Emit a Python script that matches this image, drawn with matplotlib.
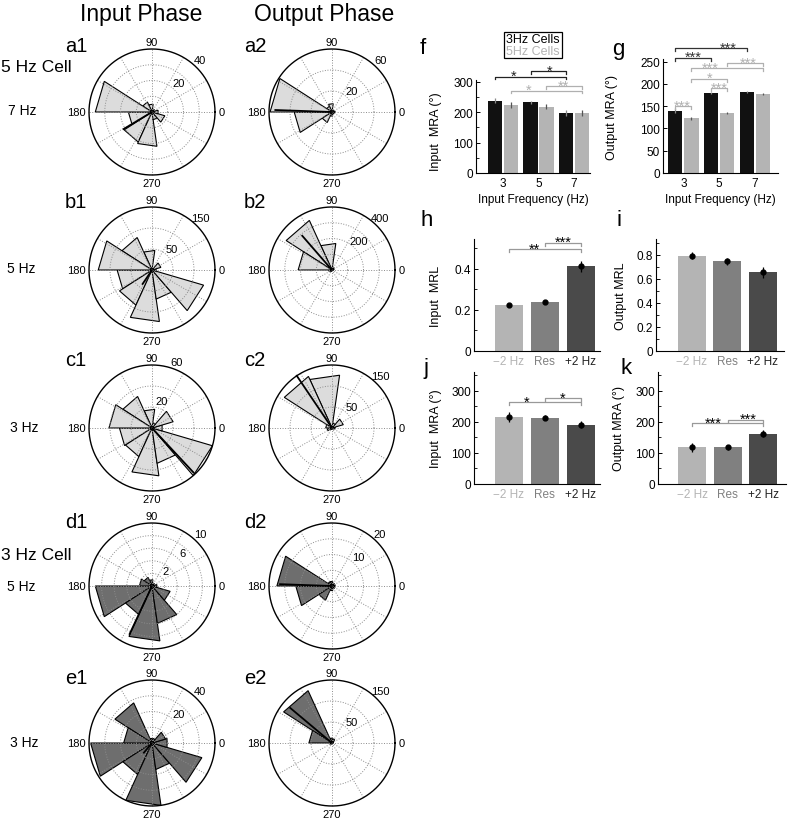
import numpy as np
import matplotlib.pyplot as plt
from matplotlib.patches import Rectangle
from matplotlib.ticker import MultipleLocator

plt.rcParams['font.family'] = ['Liberation Sans', 'DejaVu Sans']

W, H = 800, 820
fig = plt.figure(figsize=(8, 8.2), dpi=100)


def px_axes(left, top, w, h):
    return fig.add_axes([left / W, 1 - (top + h) / H, w / W, h / H])


# ---- rose histograms: 11 bins, first bin starts at 180 deg ----
n_bins = 11
bin_edges = 180 + np.arange(n_bins + 1) * 360 / n_bins

a1_counts = [15, 21, 22, 5, 8.5, 4, 2, 2, 5, 7, 36]
a2_counts = [36, 11, 4, 2, 2, 3, 2, 1, 8, 6, 59]
b1_counts = [83, 92, 124, 70, 128, 10, 22, 5, 47, 85, 128]
b2_counts = [20, 10, 5, 4, 5, 10, 15, 20, 170, 346, 215]
c1_counts = [31, 30, 46, 34, 60, 10, 21, 5, 18, 33, 41]
c2_counts = [12, 4, 3, 3, 4, 8, 28, 12, 127, 135, 15]
d1_counts = [9, 5, 8.8, 6, 3, 0.8, 0.5, 0.5, 1, 1.5, 2]
d2_counts = [11.5, 5, 1.5, 1, 1, 1, 1, 1, 1.5, 1.5, 17.5]
e1_counts = [39, 22, 40, 17, 33, 10, 9, 3, 3, 28, 18]
e2_counts = [5, 3, 2, 2, 2, 3, 4, 10, 12, 137, 55]

# mean direction (deg) and length drawn from the centre
a1_mean = (211, 21)
a2_mean = (178, 54)
b1_mean = (236, 40)
b2_mean = (131, 288)
c1_mean = (313, 58)
c2_mean = (124, 150)
d1_mean = (245, 8.4)
d2_mean = (178, 16.5)
e1_mean = (230, 8)
e2_mean = (140, 130)

LIGHT = '#dcdcdc'
DARK = '#6e6e6e'


def rose(cx, cy, counts, rmax, rings, ring_labels, mean, face, lab_ang=47):
    R = 63
    half = 92
    ax = px_axes(cx - half, cy - half, 2 * half, 2 * half)
    lim = rmax * half / R
    ax.set_xlim(-lim, lim)
    ax.set_ylim(-lim, lim)
    ax.axis('off')
    for c, t0, t1 in zip(counts, bin_edges[:-1], bin_edges[1:]):
        t0, t1 = np.radians(t0), np.radians(t1)
        ax.fill([0, c * np.cos(t0), c * np.cos(t1)], [0, c * np.sin(t0), c * np.sin(t1)],
                facecolor=face, edgecolor='black', lw=0.8, zorder=1)
    t = np.linspace(0, 2 * np.pi, 300)
    for r in rings[:-1]:
        ax.plot(r * np.cos(t), r * np.sin(t), ls=':', color='#8c8c8c', lw=0.7, zorder=2)
    for a in np.radians(np.arange(0, 360, 30)):
        ax.plot([0, rmax * np.cos(a)], [0, rmax * np.sin(a)], ls=':', color='#8c8c8c', lw=0.7, zorder=2)
    ax.plot(rmax * np.cos(t), rmax * np.sin(t), color='black', lw=1.0, zorder=3)
    md, ml = mean
    ax.plot([0, ml * np.cos(np.radians(md))], [0, ml * np.sin(np.radians(md))],
            color='black', lw=1.3, zorder=4)
    fs = 8
    ax.text(0, 1.11 * rmax, '90', ha='center', va='center', fontsize=fs)
    ax.text(0, -1.12 * rmax, '270', ha='center', va='center', fontsize=fs)
    ax.text(1.05 * rmax, 0, '0', ha='left', va='center', fontsize=fs)
    ax.text(-1.05 * rmax, 0, '180', ha='right', va='center', fontsize=fs)
    la = np.radians(lab_ang)
    for v in ring_labels:
        rr = v + 0.12 * rmax
        ax.text(rr * np.cos(la), rr * np.sin(la), str(v), ha='center', va='center', fontsize=fs)


col1, col2 = 152, 332
rows = [113, 271, 429, 587, 744]

rose(col1, rows[0], a1_counts, 40, [10, 20, 30, 40], [20, 40], a1_mean, LIGHT)
rose(col2, rows[0], a2_counts, 60, [20, 40, 60], [20, 60], a2_mean, LIGHT)
rose(col1, rows[1], b1_counts, 150, [50, 100, 150], [50, 150], b1_mean, LIGHT)
rose(col2, rows[1], b2_counts, 400, [100, 200, 300, 400], [200, 400], b2_mean, LIGHT)
rose(col1, rows[2], c1_counts, 60, [20, 40, 60], [20, 60], c1_mean, LIGHT, lab_ang=70)
rose(col2, rows[2], c2_counts, 150, [50, 100, 150], [50, 150], c2_mean, LIGHT)
rose(col1, rows[3], d1_counts, 10, [2, 4, 6, 8, 10], [2, 6, 10], d1_mean, DARK)
rose(col2, rows[3], d2_counts, 20, [5, 10, 15, 20], [10, 20], d2_mean, DARK)
rose(col1, rows[4], e1_counts, 40, [10, 20, 30, 40], [20, 40], e1_mean, DARK)
rose(col2, rows[4], e2_counts, 150, [50, 100, 150], [50, 150], e2_mean, DARK)


def ftext(x, y, s, **kw):
    fig.text(x / W, 1 - y / H, s, **kw)


ftext(141, 14, 'Input Phase', ha='center', va='center', fontsize=16.5)
ftext(324, 14, 'Output Phase', ha='center', va='center', fontsize=16.5)
for lab, x, y in [('a1', 65, 46), ('a2', 244, 46), ('b1', 65, 203), ('b2', 244, 203),
                  ('c1', 65, 361), ('c2', 244, 361), ('d1', 65, 522), ('d2', 244, 522),
                  ('e1', 65, 679), ('e2', 244, 679)]:
    ftext(x, y, lab, ha='left', va='center', fontsize=14.5)
ftext(1, 67, '5 Hz Cell', ha='left', va='center', fontsize=12.5)
ftext(1, 555, '3 Hz Cell', ha='left', va='center', fontsize=12.5)
for lab, x, y in [('7 Hz', 8, 111), ('5 Hz', 7, 269), ('3 Hz', 10, 428),
                  ('5 Hz', 7, 587), ('3 Hz', 10, 743)]:
    ftext(x, y, lab, ha='left', va='center', fontsize=10)

# ---- bar charts ----
freqs = np.array([3, 5, 7])
f_3hz = [238, 232, 198]
f_3hz_err = [8, 6, 9]
f_5hz = [223, 218, 196]
f_5hz_err = [9, 9, 10]
g_3hz = [140, 180, 182]
g_3hz_err = [5, 3, 1.5]
g_5hz = [123, 134, 177]
g_5hz_err = [3, 2, 2]

conds = ['\u22122 Hz', 'Res', '+2 Hz']
h_mrl = [0.222, 0.237, 0.412]
h_err = [0.008, 0.01, 0.028]
i_mrl = [0.79, 0.745, 0.655]
i_err = [0.03, 0.028, 0.045]
j_mra = [215, 213, 191]
j_err = [16, 8, 10]
k_mra = [118, 118, 162]
k_err = [15, 8, 10]

BLACK_BAR = '#111111'
GREY_BAR = '#b4b4b4'
cond_colors = ['#b4b4b4', '#808080', '#4a4a4a']
cond_text = ['#b4b4b4', '#808080', '#222222']
FS = 8.5


def style(ax, major, minor):
    for s in ['top', 'right']:
        ax.spines[s].set_visible(False)
    ax.spines['left'].set_linewidth(0.8)
    ax.spines['bottom'].set_linewidth(0.8)
    ax.yaxis.set_major_locator(MultipleLocator(major))
    ax.yaxis.set_minor_locator(MultipleLocator(minor))
    ax.tick_params(axis='y', direction='in', length=3, width=0.7, labelsize=FS, pad=2)
    ax.tick_params(axis='y', which='minor', direction='in', length=2, width=0.6)
    ax.tick_params(axis='x', length=0, labelsize=FS, pad=3)


def sig(ax, x1, x2, y, leg, txt, color, tx, star_color=None):
    ax.plot([x1, x1, x2, x2], [y - leg, y, y, y - leg], color=color, lw=0.9, clip_on=False)
    ax.annotate(txt, xy=(tx, y), xytext=(0, -2.5), textcoords='offset points',
                ha='center', va='baseline', fontsize=10.5,
                color=star_color if star_color else color, annotation_clip=False)


def grouped(ax, a, a_err, b, b_err):
    ax.bar(freqs - 0.45, a, 0.8, color=BLACK_BAR)
    ax.bar(freqs + 0.45, b, 0.8, color=GREY_BAR)
    ax.errorbar(freqs - 0.45, a, yerr=a_err, fmt='none', ecolor='#8a8a8a', elinewidth=0.9)
    ax.errorbar(freqs + 0.45, b, yerr=b_err, fmt='none', ecolor='#555555', elinewidth=0.9)
    ax.set_xticks(freqs)
    ax.set_xticklabels([str(v) for v in freqs])
    ax.set_xlabel('Input Frequency (Hz)', fontsize=FS, labelpad=3)


# f
ax = px_axes(476, 81, 114, 93)
grouped(ax, f_3hz, f_3hz_err, f_5hz, f_5hz_err)
ax.set_xlim(1.48, 7.9)
ax.set_ylim(0, 306)
style(ax, 100, 50)
ax.set_ylabel('Input  MRA (\u00b0)', fontsize=FS + 0.5)
ax.yaxis.set_label_coords(-34 / 114, 0.45)
sig(ax, 2.55, 6.55, 317, 9, '*', '#222222', 3.6)
sig(ax, 4.55, 6.55, 334, 9, '*', '#222222', 5.6)
sig(ax, 3.45, 7.45, 271, 9, '*', '#b0b0b0', 4.42)
sig(ax, 5.45, 7.45, 286, 9, '**', '#b0b0b0', 6.4)

# legend box of f
fig.patches.append(Rectangle((504 / W, 1 - 59 / H), 58 / W, 26 / H, transform=fig.transFigure,
                             fill=False, edgecolor='black', lw=0.9))
ftext(533, 40, '3Hz Cells', ha='center', va='center', fontsize=9, color='black')
ftext(533, 52, '5Hz Cells', ha='center', va='center', fontsize=9, color='#b4b4b4')

# g
ax = px_axes(663, 60, 115, 114)
grouped(ax, g_3hz, g_3hz_err, g_5hz, g_5hz_err)
ax.set_xlim(1.86, 8.29)
ax.set_ylim(0, 256)
style(ax, 50, 25)
ax.tick_params(axis='y', which='minor', length=0)
ax.set_ylabel('Output MRA (\u00b0)', fontsize=FS + 0.5)
ax.yaxis.set_label_coords(-45 / 115, 0.5)
sig(ax, 2.55, 4.55, 259, 7, '***', '#333333', 3.55)
sig(ax, 2.55, 6.55, 281, 7, '***', '#333333', 5.5)
sig(ax, 3.45, 7.45, 235, 7, '***', '#b0b0b0', 4.48)
sig(ax, 5.45, 7.45, 247, 7, '***', '#b0b0b0', 6.62)
sig(ax, 3.45, 5.45, 212, 7, '*', '#b0b0b0', 4.48)
sig(ax, 4.55, 5.45, 191, 7, '***', '#b0b0b0', 5.0)
sig(ax, 2.55, 3.45, 150, 7, '***', '#b0b0b0', 2.96)


def cond_bars(ax, vals, errs):
    x = np.arange(1, 4)
    ax.bar(x, vals, 0.8, color=cond_colors)
    ax.errorbar(x, vals, yerr=errs, fmt='o', color='black', ms=3.5, elinewidth=0.9)
    ax.set_xticks(x)
    ax.set_xticklabels(conds)
    for t, c in zip(ax.get_xticklabels(), cond_text):
        t.set_color(c)


# h
ax = px_axes(474, 240, 126, 112)
cond_bars(ax, h_mrl, h_err)
ax.set_xlim(0.03, 3.53)
ax.set_ylim(0, 0.545)
style(ax, 0.2, 0.1)
ax.set_yticks([0, 0.2, 0.4])
ax.set_yticklabels(['0', '0.2', '0.4'])
ax.set_ylabel('Input  MRL', fontsize=FS + 0.5)
ax.yaxis.set_label_coords(-32 / 126, 0.5)
sig(ax, 1, 3, 0.497, 0.015, '**', '#999999', 1.72, 'black')
sig(ax, 2, 3, 0.527, 0.015, '***', '#999999', 2.51, 'black')

# i
ax = px_axes(656, 240, 128, 112)
cond_bars(ax, i_mrl, i_err)
ax.set_xlim(-0.01, 3.6)
ax.set_ylim(0, 0.93)
style(ax, 0.2, 0.1)
ax.set_yticks([0, 0.2, 0.4, 0.6, 0.8])
ax.set_yticklabels(['0', '0.2', '0.4', '0.6', '0.8'])
ax.set_ylabel('Output MRL', fontsize=FS + 0.5)
ax.yaxis.set_label_coords(-29 / 128, 0.5)

# j
ax = px_axes(474, 373, 126, 112)
cond_bars(ax, j_mra, j_err)
ax.set_xlim(0.03, 3.53)
ax.set_ylim(0, 360)
style(ax, 100, 50)
ax.set_ylabel('Input  MRA (\u00b0)', fontsize=FS + 0.5)
ax.yaxis.set_label_coords(-32 / 126, 0.5)
sig(ax, 1, 3, 263, 9, '*', '#999999', 1.49, 'black')
sig(ax, 2, 3, 275, 9, '*', '#999999', 2.48, 'black')

# k
ax = px_axes(658, 373, 128, 112)
cond_bars(ax, k_mra, k_err)
ax.set_xlim(0.03, 3.65)
ax.set_ylim(0, 360)
style(ax, 100, 50)
ax.set_ylabel('Output MRA (\u00b0)', fontsize=FS + 0.5)
ax.yaxis.set_label_coords(-33 / 128, 0.5)
sig(ax, 1, 3, 195, 9, '***', '#999999', 1.58, 'black')
sig(ax, 2, 3, 207, 9, '***', '#999999', 2.58, 'black')

for lab, x, y in [('f', 420, 48), ('g', 612, 50), ('h', 421, 221), ('i', 616, 221),
                  ('j', 423, 369), ('k', 620, 369)]:
    ftext(x, y, lab, ha='left', va='center', fontsize=16)

fig.savefig('out.png', dpi=100)
